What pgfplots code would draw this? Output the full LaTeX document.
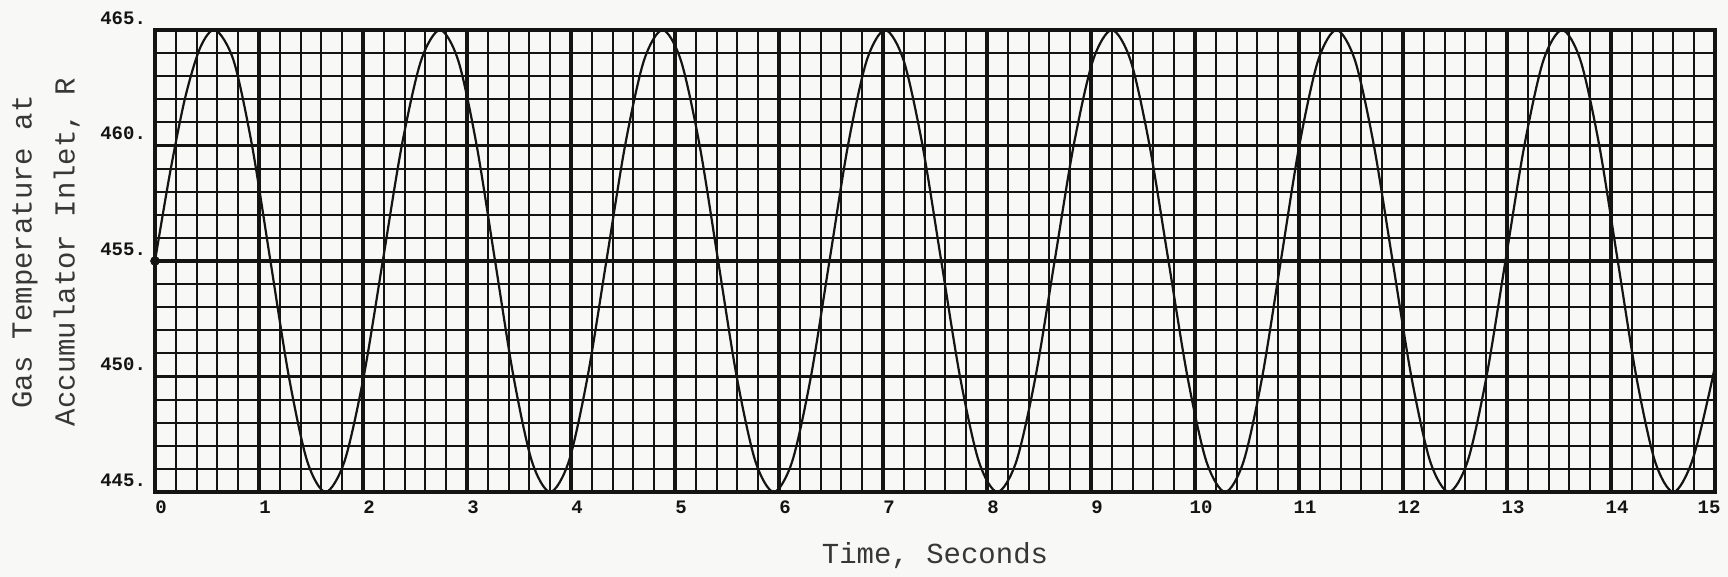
\documentclass[border=0pt]{standalone}
\usepackage{fontspec}
\setmainfont{Liberation Mono}
\newfontfamily\tickfont{Liberation Mono}
\usepackage{pgfplots}
\pgfplotsset{compat=1.18}
\definecolor{paper}{RGB}{248,248,246}
\definecolor{ink}{RGB}{20,20,20}
\begin{document}
\begin{tikzpicture}
\fill[paper] (0,0) rectangle (864pt,288.5pt);
\useasboundingbox (0,0) rectangle (864pt,288.5pt);
\begin{axis}[
  at={(77.5pt,42.5pt)}, anchor=south west,
  scale only axis, width=780pt, height=231pt,
  xmin=0, xmax=15, ymin=445, ymax=465,
  xtick={0,1,2,3,4,5,6,7,8,9,10,11,12,13,14,15},
  xticklabels={0,1,2,3,4,5,6,7,8,9,10,11,12,13,14,{\kern-12pt 15}},
  ytick={445,450,455,460,465},
  yticklabels={445.,450.,455.,460.,465.},
  minor x tick num=4, minor y tick num=4,
  grid=both,
  major grid style={ink, line width=1.6pt},
  minor grid style={ink, line width=0.95pt},
  axis line style={ink, line width=1.6pt},
  major tick length=0pt, minor tick length=0pt,
  tick label style={font=\tickfont\bfseries\fontsize{9.5}{10}\selectfont, text=ink},
  yticklabel style={yshift=6pt, xshift=-1pt},
  xticklabel style={xshift=3pt, yshift=-1pt},
  xlabel={Time, Seconds},
  ylabel={Gas Temperature at\\Accumulator Inlet, R},
  xlabel style={at={(axis description cs:0.5,0)}, anchor=center, yshift=-32pt, font=\fontsize{14.5}{17}\selectfont, text=ink!85},
  ylabel style={at={(axis description cs:-0.0699,0.5195)}, anchor=center, align=center, font=\fontsize{14.5}{21.5}\selectfont, text=ink!85},
]
\addplot[ink, line width=1.1pt, smooth] coordinates {
(0,455) (0.145,458.83) (0.29,462.07) (0.435,464.24) (0.58,465)
(0.757,463.66) (0.933,460) (1.11,455) (1.287,450) (1.463,446.34) (1.64,445)
(1.823,446.34) (2.007,450) (2.19,455) (2.373,460) (2.557,463.66) (2.74,465)
(2.917,463.66) (3.093,460) (3.27,455) (3.447,450) (3.623,446.34) (3.80,445)
(3.98,446.34) (4.16,450) (4.34,455) (4.52,460) (4.70,463.66) (4.88,465)
(5.058,463.66) (5.237,460) (5.415,455) (5.593,450) (5.772,446.34) (5.95,445)
(6.128,446.34) (6.307,450) (6.485,455) (6.663,460) (6.842,463.66) (7.02,465)
(7.20,463.66) (7.38,460) (7.56,455) (7.74,450) (7.92,446.34) (8.10,445)
(8.283,446.34) (8.467,450) (8.65,455) (8.833,460) (9.017,463.66) (9.20,465)
(9.382,463.66) (9.563,460) (9.745,455) (9.927,450) (10.108,446.34) (10.29,445)
(10.468,446.34) (10.647,450) (10.825,455) (11.003,460) (11.182,463.66) (11.36,465)
(11.54,463.66) (11.72,460) (11.90,455) (12.08,450) (12.26,446.34) (12.44,445)
(12.622,446.34) (12.803,450) (12.985,455) (13.167,460) (13.348,463.66) (13.53,465)
(13.708,463.66) (13.887,460) (14.065,455) (14.243,450) (14.422,446.34) (14.60,445)
(14.78,446.34) (14.96,449.6) (15.12,453.2)
};
\addplot[ink, only marks, mark=*, mark size=2.2pt] coordinates {(0,455)};
\end{axis}
\end{tikzpicture}
\end{document}
